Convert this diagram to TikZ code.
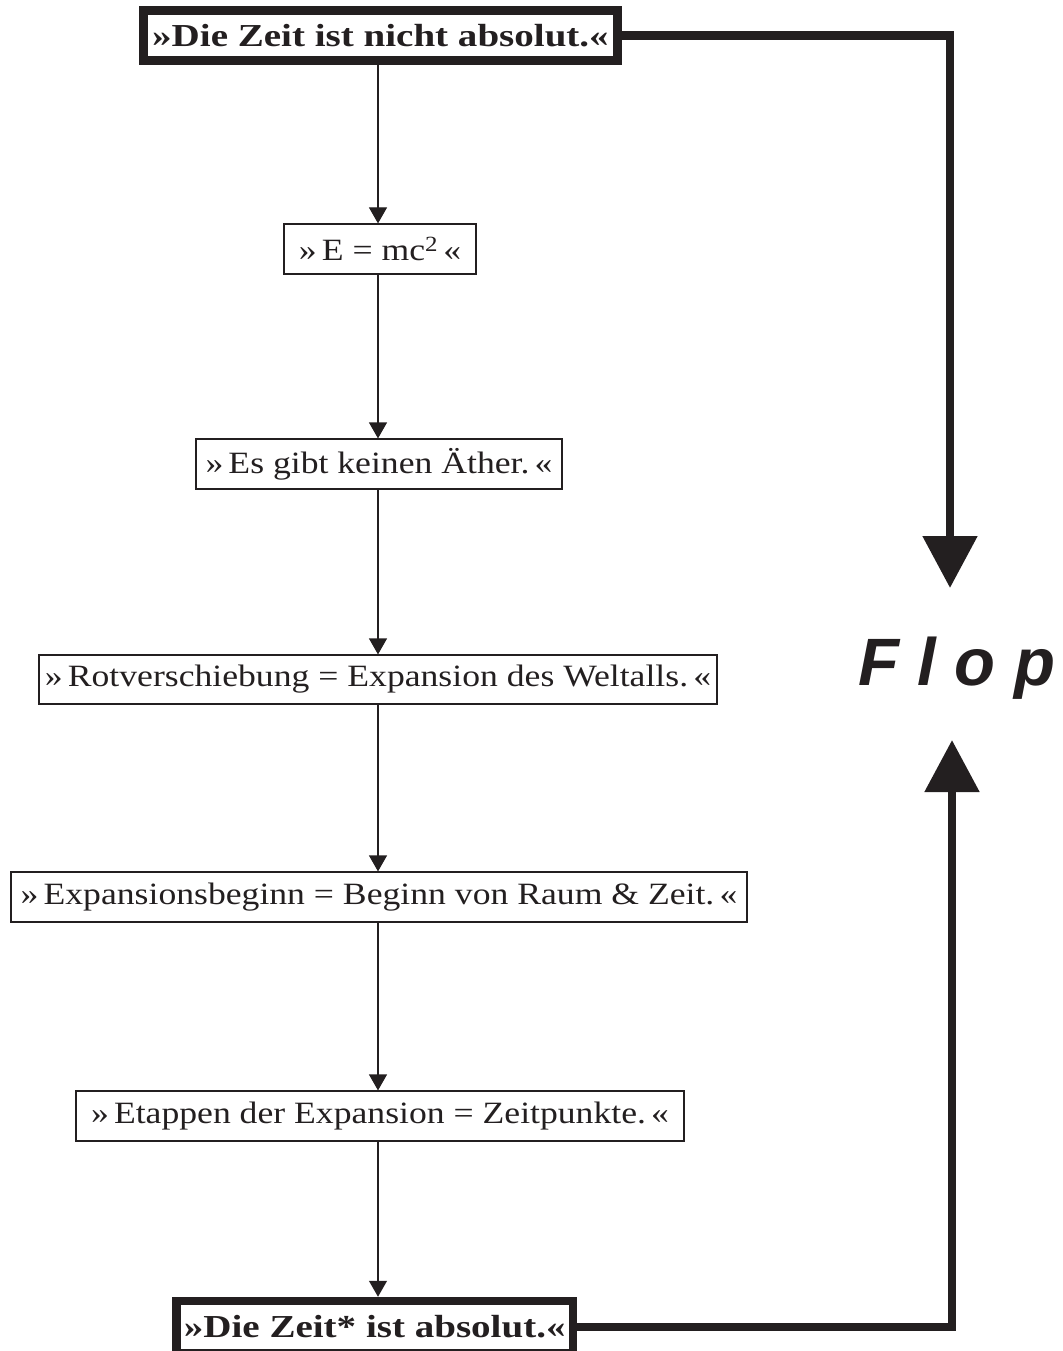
\documentclass[tikz,border=0pt]{standalone}
\usepackage{fontspec}
\setmainfont[FakeStretch=1.15]{Liberation Serif}
\newfontfamily\headfont[FakeStretch=1.22]{Liberation Serif}
\newfontfamily\flopfont{Liberation Sans}
\usepackage{xcolor}
\usetikzlibrary{arrows.meta,positioning}
\definecolor{ink}{RGB}{35,31,32}
\newcommand{\ra}{»\,}
\newcommand{\la}{\,«}

\begin{document}
\begin{tikzpicture}[x=1bp,y=-1bp,
          box/.style={draw=ink,line width=1.2bp,inner sep=0pt,text=ink,
                      minimum height=50bp,align=center,
                      font=\fontsize{31bp}{36bp}\selectfont},
          thickbox/.style={box,line width=8.5bp,font=\headfont\fontsize{32bp}{36bp}\selectfont\bfseries},
          flow/.style={draw=ink,line width=1.2bp,-{Triangle[width=18bp,length=16bp]}},
          loopline/.style={draw=ink,line width=8.5bp,-{Triangle[width=53bp,length=52bp]}}]
        \useasboundingbox (0,0) rectangle (1062,1351);
        \coordinate (spine) at (378,0);
        % the chain of statements
        \node[thickbox,minimum width=474bp] (zeit) at (380.5,35.5) {»Die Zeit ist nicht absolut.«};
        \node[box,minimum width=192bp] (emc) at (380,249) {\ra E = mc\textsuperscript{2}\la};
        \node[box,minimum width=366bp] (aether) at (379,464) {\ra Es gibt keinen Äther.\la};
        \node[box,minimum width=678bp,minimum height=49bp] (rot) at (378,679.5)
          {\ra Rotverschiebung = Expansion des Weltalls.\la};
        \node[box,minimum width=736bp] (beginn) at (379,897)
          {\ra Expansionsbeginn = Beginn von Raum \& Zeit.\la};
        \node[box,minimum width=608bp] (etappen) at (380,1116)
          {\ra Etappen der Expansion = Zeitpunkte.\la};
        \node[thickbox,minimum width=396.5bp,minimum height=52bp] (absolut) at (374.75,1327)
          {»Die Zeit* ist absolut.«};
        \node[anchor=base west,inner sep=0pt,text=ink,
              font=\flopfont\fontsize{67bp}{70bp}\selectfont\bfseries\itshape]
          (flop) at (858,685) {F l o p};
        \draw[flow] (zeit.south -| spine) -- (emc.north -| spine);
        \draw[flow] (emc.south -| spine) -- (aether.north -| spine);
        \draw[flow] (aether.south -| spine) -- (rot.north -| spine);
        \draw[flow] (rot.south -| spine) -- (beginn.north -| spine);
        \draw[flow] (beginn.south -| spine) -- (etappen.north -| spine);
        \draw[flow] (etappen.south -| spine) -- (absolut.north -| spine);
        % both ends lead to the flop
        \coordinate (tipA) at (950,588);
        \coordinate (tipB) at (952,740);
        \draw[loopline] (zeit.east) -| (tipA);
        \draw[loopline] (absolut.east) -| (tipB);
      \end{tikzpicture}
\end{document}
